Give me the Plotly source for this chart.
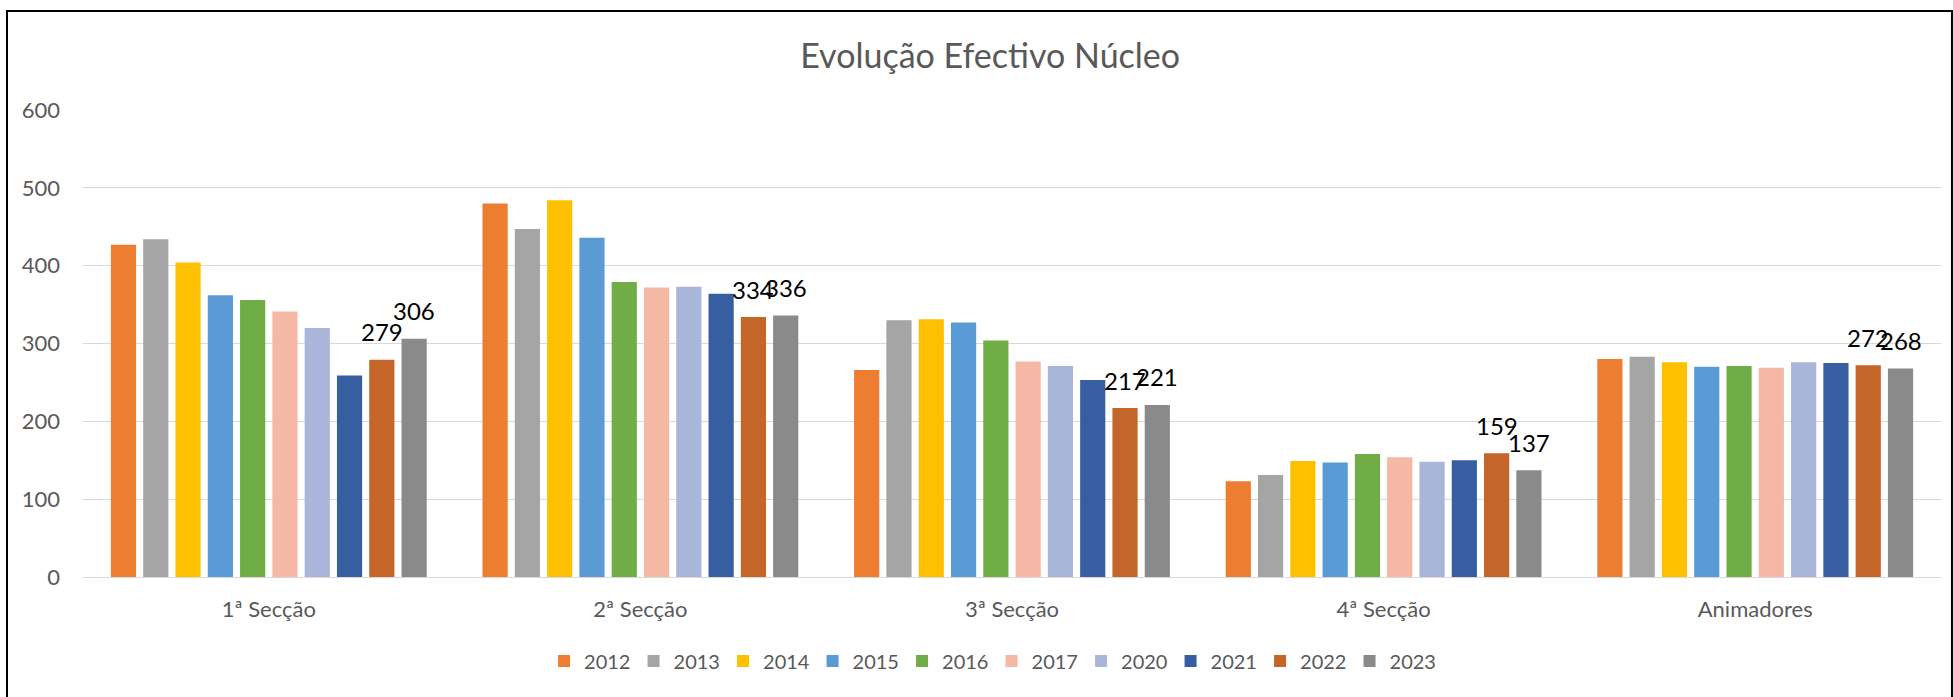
import plotly.graph_objects as go

# data
categories = ["1ª Secção", "2ª Secção", "3ª Secção", "4ª Secção", "Animadores"]
years = ["2012", "2013", "2014", "2015", "2016", "2017", "2020", "2021", "2022", "2023"]

v2012 = [427, 480, 266, 123, 280]
v2013 = [434, 447, 330, 131, 283]
v2014 = [404, 484, 331, 149, 276]
v2015 = [362, 436, 327, 147, 270]
v2016 = [356, 379, 304, 158, 271]
v2017 = [341, 372, 277, 154, 269]
v2020 = [320, 373, 271, 148, 276]
v2021 = [259, 364, 253, 150, 275]
v2022 = [279, 334, 217, 159, 272]
v2023 = [306, 336, 221, 137, 268]

series = [v2012, v2013, v2014, v2015, v2016, v2017, v2020, v2021, v2022, v2023]
colors = ["#ED7D31", "#A5A5A5", "#FFC000", "#5B9BD5", "#70AD47",
          "#F4B8A4", "#A9B6DA", "#365EA0", "#C4652A", "#8A8A8A"]
labelled = ["2022", "2023"]

FONT = "Lato"
GREY = "#595959"

W, H = 1953, 697
ML, MR, MT, MB = 83, 12, 110, 120
BARGAP, GROUPGAP = 0.131, 0.22

fig = go.Figure()
for year, vals, col in zip(years, series, colors):
    fig.add_trace(go.Bar(
        name=year,
        x=categories,
        y=vals,
        marker=dict(color=col, line=dict(width=0)),
    ))

# data labels sit a bit above the bar tops (like the Excel original),
# shifted sideways onto their bar within the group
cat_w = (W - ML - MR) / len(categories)
slot = cat_w * (1 - BARGAP) / len(years)
annotations = []
for i, (year, vals) in enumerate(zip(years, series)):
    if year not in labelled:
        continue
    shift = (i - (len(years) - 1) / 2) * slot
    for cat, v in zip(categories, vals):
        annotations.append(dict(
            x=cat, y=v, xref="x", yref="y",
            text=str(v), showarrow=False,
            xshift=shift, yshift=28, yanchor="middle",
            font=dict(family=FONT, size=24, color="black"),
        ))

fig.update_layout(
    width=W,
    height=H,
    barmode="group",
    bargap=BARGAP,
    bargroupgap=GROUPGAP,
    paper_bgcolor="white",
    plot_bgcolor="white",
    margin=dict(l=ML, r=MR, t=MT, b=MB, autoexpand=False),
    font=dict(family=FONT, color=GREY),
    title=dict(
        text="Evolução Efectivo Núcleo",
        font=dict(family=FONT, size=34, color=GREY),
        x=0.507, xanchor="center",
        y=0.92, yanchor="middle",
    ),
    xaxis=dict(
        tickfont=dict(family=FONT, size=22, color=GREY),
        showgrid=False,
        showline=False,
        ticks="",
        ticklabelstandoff=17,
    ),
    yaxis=dict(
        range=[0, 600],
        dtick=100,
        tickfont=dict(family=FONT, size=22, color=GREY),
        showgrid=True,
        gridcolor="#D9D9D9",
        gridwidth=1.3,
        zeroline=True,
        zerolinecolor="#D9D9D9",
        zerolinewidth=1.3,
        showline=False,
        ticks="",
        ticklabelstandoff=22,
    ),
    legend=dict(
        orientation="h",
        x=0.489, xanchor="center",
        y=-0.18, yanchor="middle",
        font=dict(family=FONT, size=20, color=GREY),
        traceorder="normal",
        entrywidth=44.5,
    ),
    annotations=annotations,
    shapes=[dict(
        type="rect", xref="paper", yref="paper",
        x0=-0.0409, x1=1.0059, y0=-0.4, y1=1.212,
        line=dict(color="black", width=2),
        fillcolor="rgba(0,0,0,0)",
        layer="above",
    )],
)

# drop the browser's default 8px body margin so the figure sits at the page corner
fig.write_html(
    "out.html",
    config={"displayModeBar": False},
    post_script="document.body.style.margin='0px';",
)
